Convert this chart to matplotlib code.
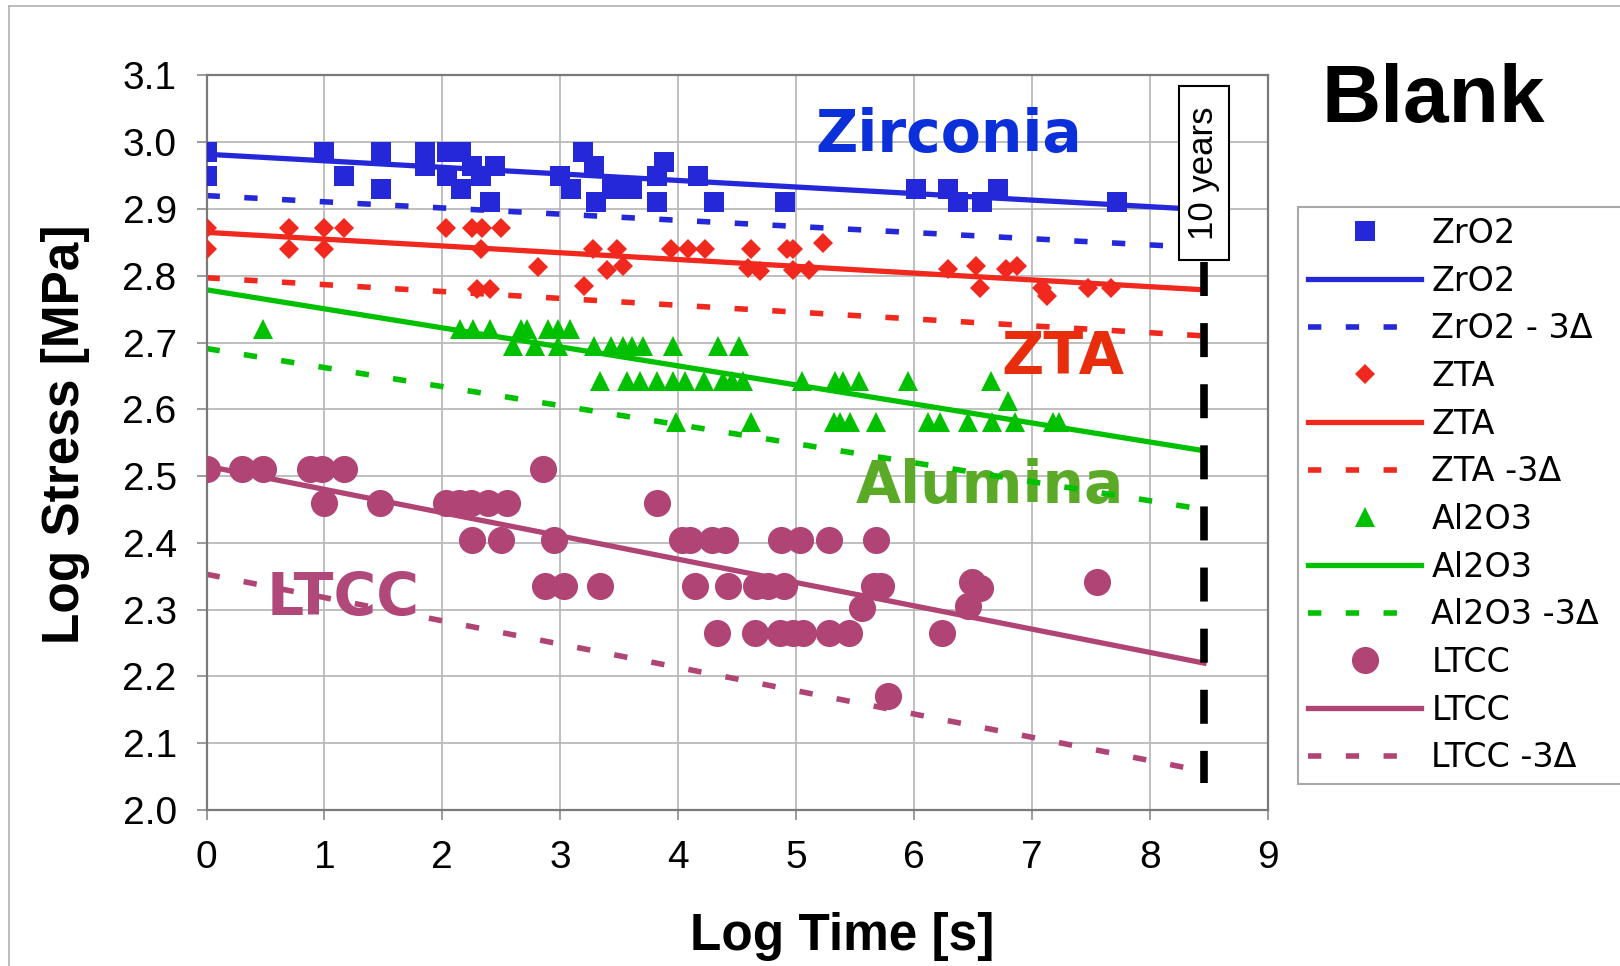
import matplotlib

matplotlib.use("Agg")
import matplotlib.pyplot as plt  # noqa: E402
from matplotlib.lines import Line2D  # noqa: E402
from matplotlib.patches import Rectangle  # noqa: E402

plt.rcParams["font.family"] = ["Liberation Sans", "DejaVu Sans"]

# log time [s] vs log stress [MPa], one pair of lists per material
zro2_time = [0.0, 0.0, 1.0, 1.17, 1.48, 1.48, 1.85, 1.85, 2.04, 2.04, 2.16, 2.16,
             2.25, 2.33, 2.40, 2.45, 3.0, 3.09, 3.19, 3.29, 3.30, 3.44, 3.61,
             3.82, 3.82, 3.88, 4.17, 4.30, 4.91, 6.02, 6.29, 6.37, 6.58, 6.71, 7.72]
zro2_stress = [2.985, 2.95, 2.985, 2.95, 2.985, 2.93, 2.985, 2.965, 2.985, 2.95, 2.985, 2.93,
               2.965, 2.95, 2.91, 2.965, 2.95, 2.93, 2.985, 2.965, 2.91, 2.93, 2.93,
               2.95, 2.91, 2.97, 2.95, 2.91, 2.91, 2.93, 2.93, 2.91, 2.91, 2.93, 2.91]

zta_time = [0.0, 0.0, 0.70, 0.70, 1.0, 1.0, 1.17, 2.03, 2.25, 2.34, 2.33, 2.50,
            2.29, 2.40, 2.81, 3.20, 3.28, 3.40, 3.48, 3.53, 3.94, 4.08, 4.23,
            4.59, 4.62, 4.69, 4.92, 4.97, 4.97, 5.11, 5.23, 6.29, 6.53, 6.56,
            6.78, 6.87, 7.09, 7.13, 7.48, 7.67]
zta_stress = [2.872, 2.84, 2.872, 2.84, 2.872, 2.84, 2.872, 2.872, 2.872, 2.872, 2.84, 2.872,
              2.78, 2.78, 2.813, 2.785, 2.84, 2.808, 2.84, 2.814, 2.84, 2.84, 2.84,
              2.812, 2.84, 2.807, 2.84, 2.84, 2.808, 2.808, 2.849, 2.81, 2.815, 2.782,
              2.81, 2.814, 2.782, 2.77, 2.782, 2.782]

al2o3_time = [0.48, 2.15, 2.26, 2.40, 2.67, 2.72, 2.90, 2.98, 3.08,
              2.60, 2.79, 2.98, 3.29, 3.43, 3.53, 3.61, 3.70, 3.96, 4.34, 4.52,
              3.34, 3.57, 3.68, 3.82, 3.96, 4.06, 4.22, 4.38, 4.46, 4.55, 5.05,
              5.33, 5.40, 5.53, 5.95, 6.65,
              6.80,
              3.98, 4.62, 5.32, 5.37, 5.46, 5.68, 6.12, 6.22, 6.46, 6.66, 6.86, 7.18, 7.23]
al2o3_stress = [2.72] * 9 + [2.695] * 11 + [2.643] * 16 + [2.613] + [2.581] * 13

ltcc_time = [0.0, 0.30, 0.48, 0.88, 0.98, 1.17, 2.85,
             1.0, 1.47, 2.03, 2.14, 2.24, 2.39, 2.55, 3.82,
             2.25, 2.50, 2.95, 4.03, 4.10, 4.29, 4.40, 4.87, 5.03, 5.28, 5.68,
             2.87, 3.03, 3.34, 4.14, 4.42, 4.66, 4.76, 4.90, 5.66, 5.72,
             6.49, 6.56, 7.55,
             5.56, 6.46,
             4.33, 4.65, 4.86, 4.97, 5.06, 5.28, 5.45, 6.24,
             5.78]
ltcc_stress = ([2.511] * 7 + [2.46] * 8 + [2.404] * 11 + [2.335] * 10
               + [2.342, 2.333, 2.342] + [2.302, 2.305] + [2.265] * 8 + [2.17])

# regression lines and their -3 sigma bounds, evaluated at log t = 0 and at 10 years
TEN_YEARS = 8.46
fit_time = [0.0, TEN_YEARS]
zro2_fit = [2.982, 2.899]
zro2_low = [2.920, 2.842]
zta_fit = [2.865, 2.779]
zta_low = [2.797, 2.710]
al2o3_fit = [2.779, 2.538]
al2o3_low = [2.691, 2.450]
ltcc_fit = [2.515, 2.220]
ltcc_low = [2.353, 2.058]

ten_year_span = [2.82, 2.04]

x_ticks = list(range(0, 10))
y_ticks = [2.0, 2.1, 2.2, 2.3, 2.4, 2.5, 2.6, 2.7, 2.8, 2.9, 3.0, 3.1]

series = [
    ("ZrO2", "ZrO2 - 3Δ", zro2_time, zro2_stress, zro2_fit, zro2_low, "#2528d8", "s", 14.5),
    ("ZTA", "ZTA -3Δ", zta_time, zta_stress, zta_fit, zta_low, "#f0281e", "D", 10.3),
    ("Al2O3", "Al2O3 -3Δ", al2o3_time, al2o3_stress, al2o3_fit, al2o3_low, "#00c000", "^", 14.5),
    ("LTCC", "LTCC -3Δ", ltcc_time, ltcc_stress, ltcc_fit, ltcc_low, "#b04474", "o", 19.5),
]

fig = plt.figure(figsize=(16.2, 9.66), dpi=100)
ax = fig.add_axes([0.1275, 0.1615, 0.655, 0.7604])

for name, low_name, t, s, fit, low, color, marker, ms in series:
    ax.plot(t, s, linestyle="none", marker=marker, ms=ms, mew=0,
            color=color, label=name, zorder=3)
    ax.plot(fit_time, fit, color=color, lw=3.8, label=name, zorder=2.5)
    ax.plot(fit_time, low, color=color, lw=4.0, linestyle=(0, (2.4, 4.4)),
            label=low_name, zorder=2.5)

# 10 year marker
ax.plot([TEN_YEARS, TEN_YEARS], ten_year_span, color="black", lw=5.5,
        linestyle=(0, (4.45, 3.55)), zorder=4)
ax.add_patch(Rectangle((TEN_YEARS - 0.208, 2.8237), 0.416, 0.2604,
                       facecolor="white", edgecolor="black", lw=1.5, zorder=5))
ax.text(TEN_YEARS, 2.954, "10 years", rotation=90, ha="center", va="center",
        fontsize=25, zorder=6)

# material names inside the plot
label_font = dict(family="DejaVu Sans", weight="bold", fontsize=42, ha="center",
                  va="baseline", zorder=1.5)
ax.text(6.296, 2.985, "Zirconia", color="#0b2fd9", **label_font)
ax.text(7.26, 2.653, "ZTA", color="#e82d0c", **label_font)
ax.text(6.645, 2.460, "Alumina", color="#5aaa28", **label_font)
ax.text(1.158, 2.292, "LTCC", color="#b0487a", **label_font)

ax.set_xlim(0, 9)
ax.set_ylim(2.0, 3.1)
ax.set_xticks(x_ticks)
ax.set_yticks(y_ticks)
ax.set_yticklabels([f"{v:.1f}" for v in y_ticks])
ax.grid(True, color="#b4b4b4", lw=1.2)
ax.set_axisbelow(True)
for spine in ax.spines.values():
    spine.set_color("#7a7a7a")
    spine.set_linewidth(1.6)
ax.tick_params(direction="out", length=7.5, width=1.2, color="#8a8a8a",
               labelsize=28)
ax.tick_params(axis="x", pad=14)
ax.tick_params(axis="y", pad=14)

fig.text(0.5198, 0.0166, "Log Time [s]", fontsize=37, weight="bold",
         ha="center", va="baseline")
fig.text(0.0407, 0.5507, "Log Stress [MPa]", fontsize=37, weight="bold",
         rotation=90, ha="center", va="center")
fig.text(0.8847, 0.874, "Blank", fontsize=59, weight="bold",
         ha="center", va="baseline")

handles, labels = ax.get_legend_handles_labels()
leg = fig.legend(handles, labels, loc="upper left",
                 bbox_to_anchor=(0.8012, 0.196, 0.21, 0.5898), mode="expand",
                 prop={"family": "DejaVu Sans", "size": 24}, numpoints=1,
                 handlelength=3.4, handletextpad=0.3, borderpad=0.3,
                 labelspacing=0.44, borderaxespad=0, fancybox=False,
                 framealpha=1)
leg.get_frame().set_edgecolor("#a8a8a8")
leg.get_frame().set_linewidth(1.5)

# outer chart frame
fx = 9 / 1620
fy = 1 - 6 / 966
fig.add_artist(Line2D([fx, fx], [0, fy], transform=fig.transFigure,
                      color="#b0b0b0", lw=1.2))
fig.add_artist(Line2D([fx, 1], [fy, fy], transform=fig.transFigure,
                      color="#b0b0b0", lw=1.2))

fig.savefig("out.png", dpi=100)
